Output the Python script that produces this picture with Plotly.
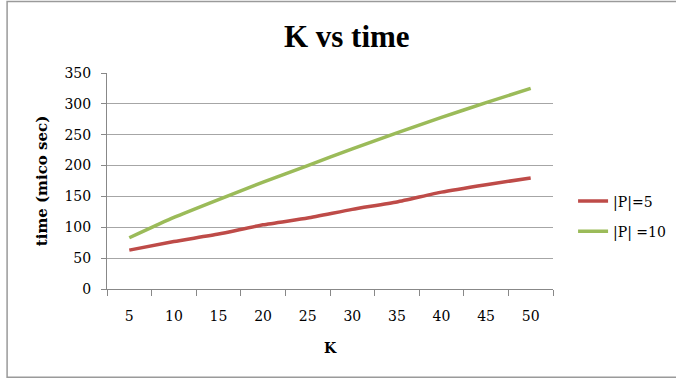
import plotly.graph_objects as go

# K values on the category axis
k_values = ["5", "10", "15", "20", "25", "30", "35", "40", "45", "50"]

# measured times (micro seconds) for each |P|
time_p5 = [63, 77, 89, 104, 115, 129, 141, 157, 169, 180]
time_p10 = [83, 116, 145, 173, 200, 227, 253, 278, 302, 325]

y_ticks = [0, 50, 100, 150, 200, 250, 300, 350]

serif = "DejaVu Serif, serif"
title_serif = "Liberation Serif, DejaVu Serif, serif"

fig = go.Figure()
fig.add_trace(go.Scatter(
    x=k_values, y=time_p5, mode="lines", name="|P|=5",
    line=dict(color="#BE4B48", width=3.5, shape="spline", smoothing=0.5),
    legend="legend",
))
fig.add_trace(go.Scatter(
    x=k_values, y=time_p10, mode="lines", name="|P| =10",
    line=dict(color="#9BBB59", width=3.5, shape="spline", smoothing=0.5),
    legend="legend2",
))

legend_style = dict(
    font=dict(family=serif, size=14, color="#000"),
    bgcolor="rgba(0,0,0,0)", xanchor="left", yanchor="middle",
    itemwidth=30,
)

fig.update_layout(
    width=676, height=378,
    margin=dict(l=107, r=123, t=73, b=89, autoexpand=False),
    paper_bgcolor="white", plot_bgcolor="white",
    font=dict(family=serif, color="#000"),
    title=dict(text="<b>K vs time</b>", x=0.513, xanchor="center",
               y=0.905, yanchor="middle",
               font=dict(family=title_serif, size=31, color="#000")),
    showlegend=True,
    legend=dict(x=1.045, y=0.405, **legend_style),
    legend2=dict(x=1.045, y=0.265, **legend_style),
    xaxis=dict(
        type="category", tickson="boundaries",
        ticks="outside", ticklen=6, tickcolor="#888", tickwidth=1,
        showline=True, linecolor="#888", linewidth=1,
        showgrid=False, ticklabelstandoff=14,
        tickfont=dict(family=serif, size=14, color="#000"),
        title=dict(text="<b>K</b>", standoff=20,
                   font=dict(family=serif, size=14, color="#000")),
        range=[-0.5, 9.5],
    ),
    yaxis=dict(
        range=[0, 350], tickvals=y_ticks, ticks="outside", ticklen=5,
        tickcolor="#888", showline=True, linecolor="#888", linewidth=1,
        gridcolor="#A6A6A6", gridwidth=1, zeroline=False,
        ticklabelstandoff=7,
        tickfont=dict(family=serif, size=14, color="#000"),
        title=dict(text="<b>time (mico sec)</b>", standoff=13,
                   font=dict(family=serif, size=15, color="#000")),
    ),
)

# thin grey frame round the chart area
fig.add_shape(type="rect", xref="paper", yref="paper",
              x0=-0.224, x1=1.3, y0=-0.408, y1=1.331,
              line=dict(color="#9A9A9A", width=1.5), fillcolor="rgba(0,0,0,0)",
              layer="below")

fig.write_html("out.html")
